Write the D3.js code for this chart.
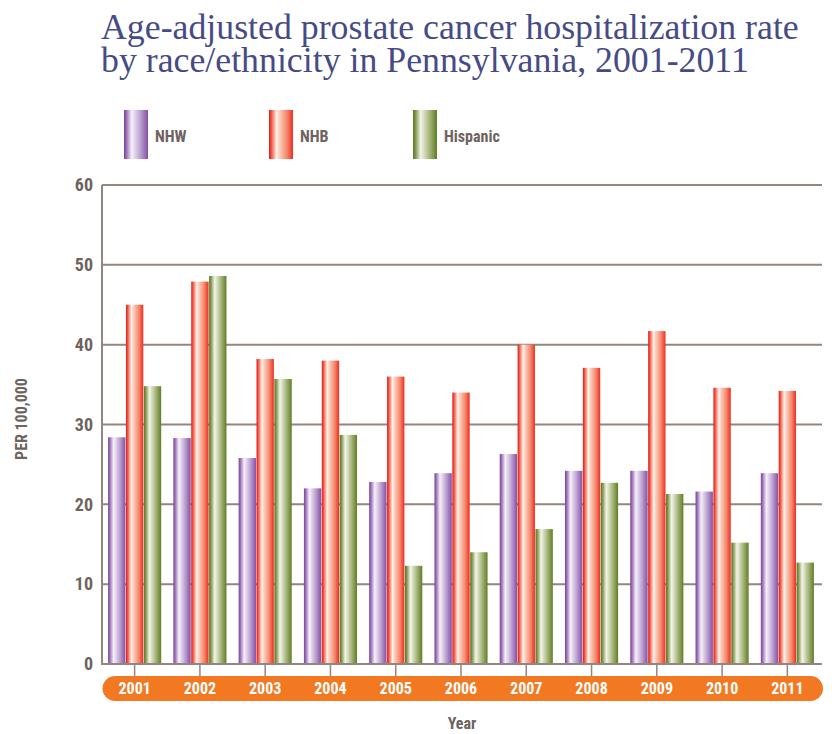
<!DOCTYPE html>
<html>
<head>
<meta charset="utf-8">
<script src="https://cdn.jsdelivr.net/npm/d3@7"></script>
<style>
  html, body { margin: 0; padding: 0; background: #ffffff; }
  svg { display: block; }
  .cond { font-family: "Liberation Sans Narrow", "Arial Narrow", "Roboto Condensed", Roboto, sans-serif; font-weight: bold; }
</style>
</head>
<body>
<svg id="chart" width="832" height="734"></svg>
<script>
// Age-adjusted prostate cancer hospitalization rate (per 100,000), Pennsylvania
const years = ["2001","2002","2003","2004","2005","2006","2007","2008","2009","2010","2011"];
const seriesNames = ["NHW", "NHB", "Hispanic"];
const nhw      = [28.4, 28.3, 25.8, 22.0, 22.8, 23.9, 26.3, 24.2, 24.2, 21.6, 23.9];
const nhb      = [45.0, 47.9, 38.2, 38.0, 36.0, 34.0, 40.0, 37.1, 41.7, 34.6, 34.2];
const hispanic = [34.8, 48.6, 35.7, 28.7, 12.3, 14.0, 16.9, 22.7, 21.3, 15.2, 12.7];
const yTicks = [0, 10, 20, 30, 40, 50, 60];

const seriesValues = { "NHW": nhw, "NHB": nhb, "Hispanic": hispanic };

const svg = d3.select("#chart");
const ink = "#6e635e";
const gridColor = "#928680";

// Shaded "cylinder" gradients for each series
const gradStops = {
  "NHW": [
    [0, "#7a4397"], [0.10, "#9a6db6"], [0.32, "#f5f0f9"], [0.42, "#e6dbef"],
    [0.72, "#b497cb"], [1, "#854fa3"]
  ],
  "NHB": [
    [0, "#e3171c"], [0.10, "#f0563f"], [0.32, "#fff4ee"], [0.42, "#fbd2c1"],
    [0.75, "#f4866a"], [1, "#ee2c22"]
  ],
  "Hispanic": [
    [0, "#5a7721"], [0.10, "#7d9449"], [0.32, "#f3f4ea"], [0.42, "#dfe4cb"],
    [0.75, "#98aa68"], [1, "#5f7e26"]
  ]
};
const defs = svg.append("defs");
seriesNames.forEach((s, i) => {
  const g = defs.append("linearGradient")
    .attr("id", "grad" + i)
    .attr("x1", "0%").attr("x2", "100%").attr("y1", "0%").attr("y2", "0%");
  gradStops[s].forEach(([o, c]) => g.append("stop").attr("offset", o).attr("stop-color", c));
});

// Plot area
const plotLeft = 102, plotRight = 820, plotTop = 185, plotBottom = 664;

const x0 = d3.scaleBand().domain(years).range([plotLeft, plotRight])
  .paddingInner(0.17).paddingOuter(0.085);
const x1 = d3.scaleBand().domain(seriesNames).range([0, x0.bandwidth()]).padding(0.03);
const y = d3.scaleLinear().domain([0, 60]).range([plotBottom, plotTop]);

// Title
const title = svg.append("g").attr("fill", "#464b86")
  .style("font-family", "'Liberation Serif', 'DejaVu Serif', serif");
const t1 = title.append("text").attr("x", 101).attr("y", 39)
  .text("Age-adjusted prostate cancer hospitalization rate");
const t2 = title.append("text").attr("x", 101).attr("y", 72)
  .text("by race/ethnicity in Pennsylvania, 2001-2011");
title.style("font-size", "34px");
const w1 = t1.node().getComputedTextLength();
const fs = 34 * 698 / w1;
title.style("font-size", fs + "px");

// Legend
const legendX = [124, 269, 413];
const legend = svg.append("g");
seriesNames.forEach((s, i) => {
  legend.append("rect")
    .attr("x", legendX[i]).attr("y", 110)
    .attr("width", 24).attr("height", 49)
    .attr("fill", `url(#grad${i})`);
  legend.append("text")
    .attr("class", "cond")
    .attr("x", legendX[i] + 31).attr("y", 142)
    .attr("fill", ink)
    .style("font-size", "16px")
    .text(s);
});

// Horizontal gridlines
svg.append("g")
  .selectAll("line")
  .data(yTicks.filter(d => d > 0))
  .join("line")
  .attr("x1", plotLeft).attr("x2", 822)
  .attr("y1", d => y(d)).attr("y2", d => y(d))
  .attr("stroke", gridColor).attr("stroke-width", 2);

// Y axis (labels only; the axis line is drawn separately)
const yAxis = svg.append("g")
  .attr("transform", `translate(${plotLeft},0)`)
  .call(d3.axisLeft(y).tickValues(yTicks).tickSize(0).tickPadding(9));
yAxis.select(".domain").remove();
yAxis.selectAll("text")
  .attr("class", "cond")
  .attr("fill", ink)
  .style("font-size", "18px");

// Bars
const groups = svg.append("g")
  .selectAll("g")
  .data(years)
  .join("g")
  .attr("transform", d => `translate(${x0(d)},0)`);

groups.selectAll("rect")
  .data((yr, yi) => seriesNames.map((s, si) => ({ s, si, v: seriesValues[s][yi] })))
  .join("rect")
  .attr("x", d => x1(d.s))
  .attr("width", x1.bandwidth())
  .attr("y", d => y(d.v))
  .attr("height", d => y(0) - y(d.v))
  .attr("fill", d => `url(#grad${d.si})`);

// Axis lines
svg.append("line")
  .attr("x1", plotLeft).attr("x2", plotLeft).attr("y1", plotTop).attr("y2", plotBottom + 1)
  .attr("stroke", gridColor).attr("stroke-width", 2);
svg.append("line")
  .attr("x1", plotLeft - 1).attr("x2", 822).attr("y1", plotBottom).attr("y2", plotBottom)
  .attr("stroke", gridColor).attr("stroke-width", 2);

// X ticks down to the orange band
svg.append("g")
  .selectAll("line")
  .data(years)
  .join("line")
  .attr("x1", d => x0(d) + x0.bandwidth() / 2)
  .attr("x2", d => x0(d) + x0.bandwidth() / 2)
  .attr("y1", plotBottom).attr("y2", 676)
  .attr("stroke", gridColor).attr("stroke-width", 1.5);

// Orange year band
svg.append("rect")
  .attr("x", 102.5).attr("y", 676)
  .attr("width", 720.5).attr("height", 25)
  .attr("rx", 12.5).attr("ry", 12.5)
  .attr("fill", "#f27922");

const xAxis = svg.append("g")
  .attr("transform", "translate(0,688.5)")
  .call(d3.axisBottom(x0).tickSize(0).tickPadding(0));
xAxis.select(".domain").remove();
xAxis.selectAll("text")
  .attr("class", "cond")
  .attr("fill", "#ffffff")
  .attr("dy", "0.35em")
  .attr("y", 0)
  .style("font-size", "16px");

// Axis titles
svg.append("text")
  .attr("class", "cond")
  .attr("x", 462).attr("y", 729)
  .attr("text-anchor", "middle")
  .attr("fill", ink)
  .style("font-size", "16px")
  .text("Year");

svg.append("text")
  .attr("class", "cond")
  .attr("transform", "translate(27,419) rotate(-90)")
  .attr("text-anchor", "middle")
  .attr("fill", ink)
  .style("font-size", "16px")
  .text("PER 100,000");
</script>
</body>
</html>
